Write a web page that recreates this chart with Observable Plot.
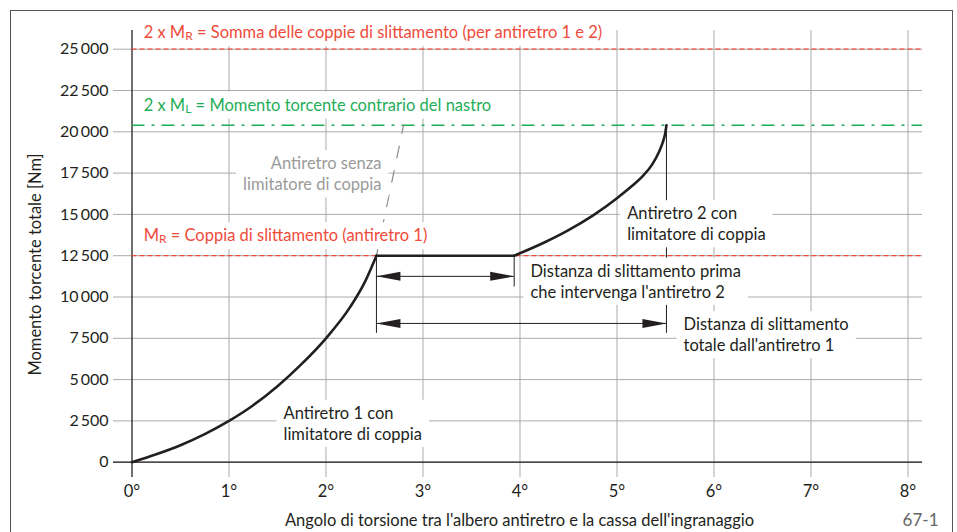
<!DOCTYPE html>
<html>
<head>
<meta charset="utf-8">
<script src="https://cdn.jsdelivr.net/npm/d3@7"></script>
<script src="https://cdn.jsdelivr.net/npm/@observablehq/plot@0.6"></script>
<style>
  html, body { margin: 0; padding: 0; background: #fff; overflow: hidden; }
  #chart { position: absolute; left: 0; top: 0; }
  #frame { position: absolute; left: 10px; top: 10px; width: 943px; height: 600px;
           border: 1.5px solid #555; border-bottom: none; box-sizing: border-box;
           pointer-events: none; z-index: 2; }
</style>
</head>
<body>
<div id="chart"></div>
<div id="frame"></div>
<script>
// ---------- data ----------
const xTicks = [0, 1, 2, 3, 4, 5, 6, 7, 8];
const xTickLabels = ["0°", "1°", "2°", "3°", "4°", "5°", "6°", "7°", "8°"];
const yTicks = [0, 2500, 5000, 7500, 10000, 12500, 15000, 17500, 20000, 22500, 25000];
const yTickLabels = ["0", "2\u2009500", "5\u2009000", "7\u2009500", "10\u2009000", "12\u2009500",
                     "15\u2009000", "17\u2009500", "20\u2009000", "22\u2009500", "25\u2009000"];

// Antiretro 1 (torque limiter) curve
const curve1Angle  = [0, 0.25, 0.5, 0.75, 1, 1.25, 1.5, 1.75, 2, 2.25, 2.4, 2.52];
const curve1Torque = [0, 480, 1030, 1700, 2500, 3450, 4600, 5950, 7500, 9400, 10900, 12500];
// Slipping plateau
const slipAngle  = [2.52, 3.94];
const slipTorque = [12500, 12500];
// Antiretro 2 (torque limiter) curve
const curve2Angle  = [3.94, 4.25, 4.5, 4.75, 5.0, 5.15, 5.27, 5.36, 5.43, 5.47, 5.495, 5.51];
const curve2Torque = [12500, 13300, 14050, 14930, 15980, 16700, 17350, 18000, 18750, 19330, 19850, 20400];
// Antiretro without torque limiter (dashed)
const noLimiterAngle  = [2.52, 2.8];
const noLimiterTorque = [12500, 20400];

// Reference levels
const MR = 12500;          // coppia di slittamento antiretro 1
const twoMR = 25000;       // somma coppie di slittamento
const twoML = 20400;       // momento torcente contrario del nastro

// Arrow levels (torque units)
const arrow1Level = 11250;
const arrow2Level = 8400;
const dropLevelA = 7800;
const dropLevelB = 10600;

const labelTop = "2 x MR = Somma delle coppie di slittamento (per antiretro 1 e 2)";
const labelGreen = "2 x ML = Momento torcente contrario del nastro";
const labelMR = "MR = Coppia di slittamento (antiretro 1)";
const labelNoLim = "Antiretro senza\nlimitatore di coppia";
const labelAR2 = "Antiretro 2 con\nlimitatore di coppia";
const labelAR1 = "Antiretro 1 con\nlimitatore di coppia";
const labelDist1 = "Distanza di slittamento prima\nche intervenga l'antiretro 2";
const labelDist2 = "Distanza di slittamento\ntotale dall'antiretro 1";
const xTitle = "Angolo di torsione tra l'albero antiretro e la cassa dell'ingranaggio";
const yTitle = "Momento torcente totale [Nm]";
const figId = "67-1";

// ---------- tables ----------
const curveRows = [
  ...curve1Angle.map((a, i) => ({series: "ar1", angle: a, torque: curve1Torque[i]})),
  ...slipAngle.map((a, i) => ({series: "slip", angle: a, torque: slipTorque[i]})),
  ...curve2Angle.map((a, i) => ({series: "ar2", angle: a, torque: curve2Torque[i]}))
];
const noLimRows = noLimiterAngle.map((a, i) => ({angle: a, torque: noLimiterTorque[i]}));

const aStart = curve1Angle[curve1Angle.length - 1];
const aMid = curve2Angle[0];
const aPeak = curve2Angle[curve2Angle.length - 1];

const dropRows = [
  {x: aStart, y1: MR, y2: dropLevelA},
  {x: aMid, y1: MR, y2: dropLevelB},
  {x: aPeak, y1: twoML, y2: dropLevelA}
];
const arrowRows = [
  {x1: aStart, x2: aMid, y: arrow1Level},
  {x1: aStart, x2: aPeak, y: arrow2Level}
];
const headRows = [
  {x: aStart, y: arrow1Level, r: 180}, {x: aMid, y: arrow1Level, r: 0},
  {x: aStart, y: arrow2Level, r: 180}, {x: aPeak, y: arrow2Level, r: 0}
];

const arrowHead = {
  draw(ctx) { ctx.moveTo(0, 0); ctx.lineTo(-24, -4.5); ctx.lineTo(-24, 4.5); ctx.closePath(); }
};

const RED = "#ef4b3a", GREEN = "#1fae58", GRID = "#ababab", INK = "#231f20";
const FONT = "Lato";
const FS = 16.5;

const plot = Plot.plot({
  width: 957, height: 532,
  marginLeft: 113, marginRight: 35, marginTop: 30, marginBottom: 55,
  x: {domain: [-0.1907, 8.1495], axis: null},
  y: {domain: [-926, 26132], axis: null},
  style: {fontFamily: FONT, fontSize: FS + "px", background: "transparent", overflow: "visible", color: INK},
  marks: [
    // grid
    Plot.ruleY(yTicks, {stroke: GRID, strokeWidth: 1}),
    Plot.ruleX(xTicks.slice(1), {stroke: GRID, strokeWidth: 1}),
    // axes lines
    Plot.ruleY([0], {stroke: INK, strokeWidth: 1.3}),
    Plot.ruleX([0], {stroke: INK, strokeWidth: 1.3}),
    // tick labels
    Plot.axisY(yTicks, {tickSize: 0, tickPadding: 5, tickFormat: d => yTickLabels[yTicks.indexOf(d)], fontSize: 16, fill: INK}),
    Plot.axisX(xTicks, {tickSize: 0, tickPadding: 8, tickFormat: d => xTickLabels[xTicks.indexOf(d)], fontSize: FS, fill: INK, label: null}),
    // reference lines
    Plot.ruleY([twoMR, MR], {x1: 0, x2: 8.1495, stroke: RED, strokeWidth: 1.3, strokeDasharray: "5,3"}),
    Plot.ruleY([twoML], {x1: 0, x2: 8.1495, stroke: GREEN, strokeWidth: 1.5, strokeDasharray: "13,7,3,7"}),
    // without limiter (dashed)
    Plot.line(noLimRows, {x: "angle", y: "torque", stroke: "#8c8c8c", strokeWidth: 1.2, strokeDasharray: "12,13"}),
    // annotation lines
    Plot.ruleX(dropRows, {x: "x", y1: "y1", y2: "y2", stroke: INK, strokeWidth: 1}),
    Plot.ruleY(arrowRows, {y: "y", x1: "x1", x2: "x2", stroke: INK, strokeWidth: 1}),
    Plot.dot(headRows, {x: "x", y: "y", rotate: "r", symbol: arrowHead, fill: INK, stroke: "none"}),
    // labels with white boxes
    Plot.text([labelTop], {x: 0.12, y: 26000, text: d => d, textAnchor: "start", lineAnchor: "middle", fill: RED, fontSize: FS, ariaDescription: "boxed"}),
    Plot.text([labelGreen], {x: 0.12, y: 21600, text: d => d, textAnchor: "start", lineAnchor: "middle", fill: GREEN, fontSize: FS, ariaDescription: "boxed"}),
    Plot.text([labelMR], {x: 0.12, y: 13700, text: d => d, textAnchor: "start", lineAnchor: "middle", fill: RED, fontSize: FS, ariaDescription: "boxed"}),
    Plot.text([labelNoLim], {x: 2.572, y: 17500, text: d => d, textAnchor: "end", lineAnchor: "middle", lineHeight: 1.28, fill: "#9a9a9a", fontSize: FS, ariaDescription: "boxed"}),
    Plot.text([labelAR2], {x: 5.105, y: 14480, text: d => d, textAnchor: "start", lineAnchor: "middle", lineHeight: 1.28, fill: INK, fontSize: FS, ariaDescription: "boxed"}),
    Plot.text([labelDist1], {x: 4.108, y: 11000, text: d => d, textAnchor: "start", lineAnchor: "middle", lineHeight: 1.28, fill: INK, fontSize: FS, ariaDescription: "boxed"}),
    Plot.text([labelDist2], {x: 5.686, y: 7760, text: d => d, textAnchor: "start", lineAnchor: "middle", lineHeight: 1.28, fill: INK, fontSize: FS, ariaDescription: "boxed"}),
    Plot.text([labelAR1], {x: 1.562, y: 2400, text: d => d, textAnchor: "start", lineAnchor: "middle", lineHeight: 1.28, fill: INK, fontSize: FS, ariaDescription: "boxed"}),
    // titles
    Plot.text([xTitle], {frameAnchor: "bottom", dx: 1.5, dy: 43, text: d => d, textAnchor: "middle", lineAnchor: "middle", fill: INK, fontSize: FS}),
    Plot.text([yTitle], {frameAnchor: "left", dx: -78, dy: 10.5, rotate: -90, text: d => d, textAnchor: "middle", lineAnchor: "middle", fill: INK, fontSize: FS}),
    Plot.text([figId], {frameAnchor: "bottom-right", dx: 16, dy: 43, text: d => d, textAnchor: "end", lineAnchor: "middle", fill: "#666", fontSize: 17}),
    // main curve
    Plot.line(curveRows, {x: "angle", y: "torque", z: "series", curve: "monotone-x", stroke: INK, strokeWidth: 2.6, strokeLinejoin: "miter"})
  ]
});

document.getElementById("chart").appendChild(plot);

// subscripts for M_R / M_L
d3.select(plot).selectAll("text").each(function () {
  const t = this;
  if (t.childNodes.length !== 1 || t.firstChild.nodeType !== 3) return;
  const m = t.textContent.match(/^(.*?M)([RL])( = .*)$/);
  if (!m) return;
  t.textContent = "";
  const sel = d3.select(t);
  sel.append("tspan").text(m[1]);
  sel.append("tspan").attr("font-size", 12).attr("dy", 2).text(m[2]);
  sel.append("tspan").attr("dy", -2).text(m[3]);
});

// white boxes behind annotation labels
d3.select(plot).selectAll('g[aria-description="boxed"] text').each(function () {
  const b = this.getBBox();
  const padX = 7, padY = 3;
  const r = document.createElementNS("http://www.w3.org/2000/svg", "rect");
  r.setAttribute("x", b.x - padX);
  r.setAttribute("y", b.y - padY);
  r.setAttribute("width", b.width + 2 * padX);
  r.setAttribute("height", b.height + 2 * padY);
  r.setAttribute("fill", "#fff");
  r.setAttribute("stroke", "none");
  const tr = this.getAttribute("transform");
  if (tr) r.setAttribute("transform", tr);
  this.parentNode.insertBefore(r, this);
});
</script>
</body>
</html>
